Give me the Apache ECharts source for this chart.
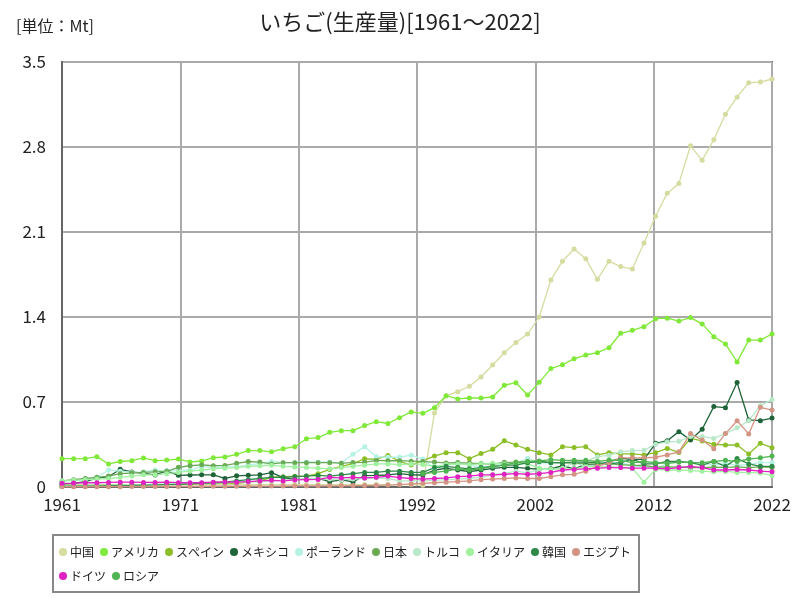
<!DOCTYPE html>
<html><head><meta charset="utf-8">
<script src="https://cdn.jsdelivr.net/npm/echarts@6/dist/echarts.min.js"></script>
<style>html,body{margin:0;padding:0;background:#fff}#c{width:800px;height:600px}</style>
</head><body><div id="c"></div>
<script>
const years = [];
for (let y = 1961; y <= 2022; y++) years.push(y);

const names = ['中国','アメリカ','スペイン','メキシコ','ポーランド','日本','トルコ','イタリア','韓国','エジプト','ドイツ','ロシア'];
const colors = ['#d6dba0','#80e838','#8cbe28','#1e6438','#b4f2e4','#6aaa55','#b8e8c8','#a0f0a0','#2e8848','#d49484','#e020c0','#50b450'];

const china = [0.02,0.02,0.02,0.02,0.02,0.02,0.02,0.02,0.02,0.02,0.02,0.02,0.02,0.02,0.02,0.02,0.02,0.02,0.02,0.02,0.02,0.02,0.02,0.02,0.02,0.02,0.02,0.02,0.02,0.02,0.02,0.015,
0.61,0.75,0.785,0.83,0.906,1.005,1.106,1.19,1.26,1.40,1.705,1.86,1.96,1.88,1.71,1.86,1.815,1.795,2.01,2.23,2.42,2.50,2.81,2.69,2.86,3.07,3.21,3.33,3.335,3.36];
const usa = [0.233,0.233,0.233,0.25,0.19,0.21,0.217,0.239,0.217,0.222,0.23,0.206,0.214,0.241,0.247,0.269,0.30,0.30,0.29,0.315,0.332,0.398,0.407,0.45,0.464,0.464,0.506,0.538,0.523,0.571,0.618,0.607,0.653,0.752,0.725,0.733,0.733,0.741,0.838,0.859,0.758,0.862,0.975,1.007,1.057,1.087,1.106,1.147,1.266,1.29,1.32,1.386,1.39,1.367,1.395,1.343,1.238,1.178,1.03,1.21,1.21,1.26];
const spain = [0.01,0.01,0.012,0.013,0.015,0.016,0.018,0.02,0.02,0.022,0.025,0.025,0.028,0.03,0.032,0.03,0.04,0.05,0.08,0.085,0.088,0.09,0.11,0.145,0.17,0.192,0.232,0.229,0.26,0.212,0.181,0.217,0.255,0.283,0.283,0.233,0.275,0.31,0.38,0.346,0.31,0.283,0.264,0.332,0.325,0.332,0.264,0.283,0.272,0.272,0.264,0.283,0.318,0.285,0.40,0.379,0.352,0.346,0.346,0.272,0.36,0.324];
const mexico = [0.025,0.03,0.044,0.074,0.085,0.146,0.124,0.113,0.099,0.132,0.096,0.099,0.1,0.1,0.071,0.092,0.096,0.1,0.118,0.077,0.063,0.063,0.071,0.044,0.058,0.042,0.094,0.096,0.099,0.11,0.1,0.099,0.14,0.154,0.14,0.126,0.14,0.154,0.162,0.162,0.154,0.146,0.15,0.175,0.15,0.187,0.18,0.208,0.236,0.228,0.228,0.36,0.381,0.456,0.387,0.475,0.662,0.653,0.86,0.552,0.546,0.568];
const poland = [0.05,0.055,0.06,0.08,0.14,0.13,0.12,0.125,0.14,0.13,0.135,0.14,0.17,0.16,0.165,0.167,0.18,0.195,0.21,0.2,0.2,0.206,0.205,0.205,0.198,0.27,0.332,0.25,0.245,0.245,0.262,0.23,0.154,0.175,0.2,0.178,0.165,0.17,0.195,0.197,0.236,0.2,0.195,0.2,0.2,0.17,0.175,0.2,0.2,0.175,0.167,0.15,0.193,0.204,0.205,0.196,0.178,0.196,0.177,0.187,0.2,0.2];
const japan = [0.05,0.06,0.07,0.08,0.09,0.11,0.115,0.12,0.125,0.128,0.162,0.175,0.183,0.175,0.178,0.195,0.21,0.205,0.19,0.2,0.2,0.2,0.2,0.2,0.196,0.201,0.203,0.219,0.216,0.217,0.213,0.209,0.205,0.198,0.201,0.197,0.193,0.189,0.203,0.205,0.209,0.21,0.203,0.198,0.196,0.19,0.191,0.191,0.185,0.178,0.177,0.163,0.166,0.164,0.159,0.159,0.164,0.162,0.165,0.159,0.165,0.161];
const turkey = [0.01,0.012,0.013,0.015,0.016,0.018,0.02,0.02,0.022,0.025,0.027,0.03,0.03,0.032,0.035,0.04,0.042,0.045,0.05,0.055,0.06,0.065,0.07,0.065,0.06,0.065,0.07,0.075,0.07,0.05,0.05,0.052,0.055,0.06,0.065,0.07,0.08,0.1,0.11,0.13,0.117,0.145,0.145,0.155,0.2,0.211,0.25,0.261,0.291,0.3,0.302,0.353,0.372,0.376,0.415,0.415,0.4,0.44,0.487,0.546,0.67,0.72];
const italy = [0.05,0.055,0.06,0.065,0.07,0.08,0.09,0.1,0.1,0.11,0.12,0.13,0.14,0.15,0.155,0.16,0.17,0.175,0.18,0.17,0.165,0.16,0.155,0.15,0.16,0.17,0.18,0.19,0.19,0.185,0.19,0.186,0.17,0.185,0.19,0.185,0.19,0.195,0.19,0.195,0.19,0.155,0.145,0.15,0.15,0.17,0.165,0.165,0.16,0.155,0.04,0.145,0.14,0.14,0.135,0.13,0.125,0.128,0.12,0.12,0.115,0.095];
const korea = [0.005,0.006,0.007,0.008,0.01,0.012,0.013,0.015,0.017,0.02,0.022,0.025,0.03,0.035,0.04,0.05,0.06,0.07,0.08,0.08,0.085,0.09,0.095,0.09,0.1,0.11,0.12,0.12,0.13,0.13,0.12,0.12,0.16,0.17,0.16,0.15,0.16,0.17,0.18,0.18,0.2,0.21,0.2,0.2,0.205,0.205,0.2,0.19,0.2,0.23,0.19,0.19,0.21,0.21,0.2,0.18,0.21,0.17,0.235,0.19,0.17,0.17];
const egypt = [0.002,0.002,0.002,0.003,0.003,0.003,0.004,0.004,0.004,0.005,0.005,0.005,0.006,0.006,0.006,0.007,0.007,0.008,0.008,0.008,0.009,0.009,0.01,0.01,0.01,0.012,0.012,0.014,0.016,0.02,0.025,0.03,0.035,0.04,0.045,0.05,0.06,0.065,0.07,0.075,0.07,0.07,0.085,0.1,0.104,0.13,0.17,0.2,0.24,0.24,0.24,0.245,0.264,0.29,0.44,0.387,0.316,0.44,0.546,0.437,0.656,0.634];
const germany = [0.03,0.032,0.035,0.035,0.038,0.04,0.04,0.038,0.037,0.04,0.036,0.035,0.035,0.04,0.042,0.04,0.045,0.05,0.055,0.05,0.058,0.06,0.062,0.08,0.075,0.08,0.075,0.08,0.09,0.078,0.07,0.065,0.07,0.075,0.085,0.09,0.1,0.1,0.105,0.11,0.105,0.11,0.12,0.14,0.145,0.15,0.155,0.16,0.16,0.155,0.155,0.155,0.15,0.16,0.17,0.16,0.14,0.14,0.144,0.14,0.13,0.125];
const russia = [null,null,null,null,null,null,null,null,null,null,null,null,null,null,null,null,null,null,null,null,null,null,null,null,null,null,null,null,null,null,null,0.11,0.12,0.13,0.15,0.14,0.15,0.17,0.18,0.2,0.21,0.215,0.225,0.22,0.22,0.22,0.21,0.222,0.22,0.2,0.21,0.2,0.195,0.205,0.2,0.2,0.21,0.22,0.21,0.23,0.24,0.255];

const seriesValues = [china,usa,spain,mexico,poland,japan,turkey,italy,korea,egypt,germany,russia];

const yTicks = ['0','0.7','1.4','2.1','2.8','3.5'];

const series = names.map((n, i) => ({
  name: n,
  type: 'line',
  data: years.map((y, k) => [(y - 1961) * 6, seriesValues[i][k]]),
  symbol: 'circle',
  symbolSize: 5,
  showSymbol: true,
  connectNulls: false,
  lineStyle: { width: 1.3, color: colors[i] },
  itemStyle: { color: colors[i] },
  emphasis: { disabled: true },
  animation: false
}));

const chart = echarts.init(document.getElementById('c'), null, { renderer: 'canvas' });
chart.setOption({
  animation: false,
  color: colors,
  title: {
    text: 'いちご(生産量)[1961～2022]',
    left: 'center',
    top: 6,
    textStyle: { fontFamily: 'Noto Sans CJK JP', fontSize: 22, fontWeight: 'normal', color: '#222' }
  },
  graphic: [{
    type: 'text', left: 16, top: 18,
    style: { text: '[単位：Mt]', font: '16px "Noto Sans CJK JP"', fill: '#222' }
  }],
  grid: { left: 62, right: 28, top: 62, bottom: 113, show: true, borderColor: '#666', borderWidth: 2, backgroundColor: 'transparent' },
  xAxis: {
    type: 'value', min: 0, max: 366, interval: 61,
    axisLine: { show: true, lineStyle: { color: '#666', width: 2 } },
    axisTick: { show: false },
    splitLine: { show: true, lineStyle: { color: '#aaa', width: 2 } },
    axisLabel: {
      fontSize: 17, color: '#222', margin: 9, fontFamily: 'Noto Sans CJK JP',
      formatter: v => String(Math.round(v / 6 + 1961))
    }
  },
  yAxis: {
    type: 'value', min: 0, max: 3.5, interval: 0.7,
    axisLine: { show: true, lineStyle: { color: '#666', width: 2 } },
    axisTick: { show: false },
    splitLine: { show: true, lineStyle: { color: '#aaa', width: 2 } },
    axisLabel: {
      fontSize: 17, color: '#222', margin: 16, fontFamily: 'Noto Sans CJK JP',
      formatter: v => yTicks[Math.round(v / 0.7)]
    }
  },
  legend: {
    data: names,
    left: 53, top: 535, width: 600,
    borderColor: '#888', borderWidth: 2, padding: [8, 8, 7, 6],
    icon: 'circle', itemWidth: 8, itemHeight: 8, itemGap: 6,
    textStyle: { fontSize: 12, color: '#222', fontFamily: 'Noto Sans CJK JP', padding: [0, 0, 0, -2], lineHeight: 18 }
  },
  series: series
});
</script>
</body></html>
